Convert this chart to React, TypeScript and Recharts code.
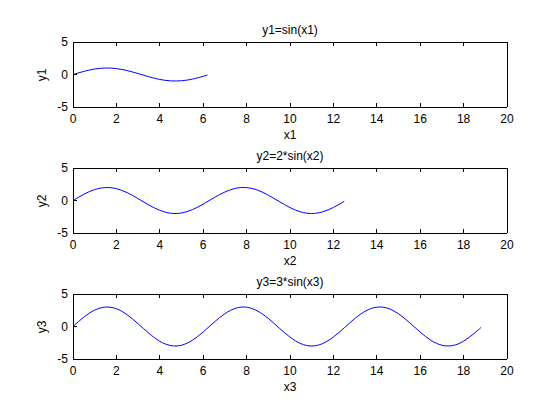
import React from 'react';
import { LineChart, Line, XAxis, YAxis } from 'recharts';

const x1 = [0, 0.5, 1, 1.5, 2, 2.5, 3, 3.5, 4, 4.5, 5, 5.5, 6, 6.2];
const y1 = [0, 0.48, 0.84, 1.0, 0.91, 0.6, 0.14, -0.35, -0.76, -0.98, -0.96, -0.71, -0.28, -0.08];

const x2 = [0, 0.5, 1, 1.5, 2, 2.5, 3, 3.5, 4, 4.5, 5, 5.5, 6, 6.5, 7, 7.5, 8, 8.5, 9, 9.5, 10, 10.5, 11, 11.5, 12, 12.5];
const y2 = [0, 0.96, 1.68, 1.99, 1.82, 1.2, 0.28, -0.7, -1.51, -1.96, -1.92, -1.41, -0.56, 0.43, 1.31, 1.88, 1.98, 1.6, 0.82, -0.15, -1.09, -1.76, -2.0, -1.75, -1.07, -0.13];

const x3 = [0, 0.5, 1, 1.5, 2, 2.5, 3, 3.5, 4, 4.5, 5, 5.5, 6, 6.5, 7, 7.5, 8, 8.5, 9, 9.5, 10, 10.5, 11, 11.5, 12, 12.5, 13, 13.5, 14, 14.5, 15, 15.5, 16, 16.5, 17, 17.5, 18, 18.5, 18.8];
const y3 = [0, 1.44, 2.52, 2.99, 2.73, 1.8, 0.42, -1.05, -2.27, -2.93, -2.88, -2.12, -0.84, 0.65, 1.97, 2.81, 2.97, 2.39, 1.24, -0.23, -1.63, -2.64, -3.0, -2.63, -1.61, -0.2, 1.26, 2.41, 2.97, 2.81, 1.95, 0.62, -0.86, -2.14, -2.88, -2.93, -2.25, -1.03, -0.15];

const xTicks = [0, 2, 4, 6, 8, 10, 12, 14, 16, 18, 20];
const yTicks = [-5, 0, 5];

const titles = ['y1=sin(x1)', 'y2=2*sin(x2)', 'y3=3*sin(x3)'];
const xLabels = ['x1', 'x2', 'x3'];
const yLabels = ['y1', 'y2', 'y3'];

const FONT = '"Liberation Sans", Arial, sans-serif';
const PLOT_LEFT = 73;
const PLOT_RIGHT = 507;
const PLOT_H = 65;
const MARGIN_TOP = 42;
const TICK = 4;

const axisLineStyle = { stroke: '#000', strokeWidth: 1, shapeRendering: 'crispEdges' as const };

function BottomTick(props: any) {
  const { x, y, payload } = props;
  return (
    <g>
      <line x1={x} x2={x} y1={y} y2={y - TICK} stroke="#000" shapeRendering="crispEdges" />
      <text x={x} y={y + 7} dy="0.71em" textAnchor="middle" fontSize={12} fill="#000" fontFamily={FONT}>
        {payload.value}
      </text>
    </g>
  );
}
function TopTick(props: any) {
  const { x, y } = props;
  return <line x1={x} x2={x} y1={y} y2={y + TICK} stroke="#000" shapeRendering="crispEdges" />;
}
function LeftTick(props: any) {
  const { x, y, payload } = props;
  return (
    <g>
      <line x1={x} x2={x + TICK} y1={y} y2={y} stroke="#000" shapeRendering="crispEdges" />
      <text x={x - 5} y={y} dy="0.36em" textAnchor="end" fontSize={12} fill="#000" fontFamily={FONT}>
        {payload.value}
      </text>
    </g>
  );
}
function RightTick(props: any) {
  const { x, y } = props;
  return <line x1={x} x2={x - TICK} y1={y} y2={y} stroke="#000" shapeRendering="crispEdges" />;
}

function Panel({ xs, ys, top, idx }: { xs: number[]; ys: number[]; top: number; idx: number }) {
  const data = xs.map((x, i) => ({ x, y: ys[i] }));
  const plotTop = top + MARGIN_TOP;
  const cx = (PLOT_LEFT + PLOT_RIGHT) / 2;
  return (
    <>
      <div style={{ position: 'absolute', left: 0, top }}>
        <LineChart
          width={560}
          height={MARGIN_TOP + PLOT_H + 30}
          data={data}
          margin={{ top: MARGIN_TOP - 1, right: 560 - PLOT_RIGHT - 1, left: 0, bottom: 10 }}
        >
          <XAxis
            xAxisId="b"
            dataKey="x"
            type="number"
            domain={[0, 20]}
            ticks={xTicks}
            interval={0}
            height={20}
            axisLine={axisLineStyle}
            tickLine={false}
            tickSize={0}
            tickMargin={0}
            tick={<BottomTick />}
          />
          <XAxis
            xAxisId="t"
            orientation="top"
            dataKey="x"
            type="number"
            domain={[0, 20]}
            ticks={xTicks}
            interval={0}
            height={1}
            axisLine={axisLineStyle}
            tickLine={false}
            tickSize={0}
            tickMargin={0}
            tick={<TopTick />}
          />
          <YAxis
            yAxisId="l"
            type="number"
            domain={[-5, 5]}
            ticks={yTicks}
            interval={0}
            width={PLOT_LEFT}
            axisLine={axisLineStyle}
            tickLine={false}
            tickSize={0}
            tickMargin={0}
            tick={<LeftTick />}
          />
          <YAxis
            yAxisId="r"
            orientation="right"
            type="number"
            domain={[-5, 5]}
            ticks={yTicks}
            interval={0}
            width={1}
            axisLine={axisLineStyle}
            tickLine={false}
            tickSize={0}
            tickMargin={0}
            tick={<RightTick />}
          />
          <Line
            xAxisId="b"
            yAxisId="l"
            dataKey="y"
            type="natural"
            stroke="#0000ff"
            strokeWidth={1}
            dot={false}
            isAnimationActive={false}
          />
        </LineChart>
      </div>
      <div style={{ position: 'absolute', left: cx - 100, width: 200, top: plotTop - 20, lineHeight: '16px', textAlign: 'center', fontSize: 12, color: '#000' }}>
        {titles[idx]}
      </div>
      <div style={{ position: 'absolute', left: cx - 100, width: 200, top: plotTop + PLOT_H + 20, lineHeight: '16px', textAlign: 'center', fontSize: 12, color: '#000' }}>
        {xLabels[idx]}
      </div>
      <div style={{ position: 'absolute', left: 42 - 50, width: 100, top: plotTop + PLOT_H / 2 - 8, lineHeight: '16px', textAlign: 'center', fontSize: 12, color: '#000', transform: 'rotate(-90deg)' }}>
        {yLabels[idx]}
      </div>
    </>
  );
}

export default function App() {
  return (
    <div style={{ position: 'absolute', left: 0, top: 0, width: 560, height: 420, background: '#fff', fontFamily: FONT, overflow: 'hidden' }}>
      <Panel xs={x1} ys={y1} top={0} idx={0} />
      <Panel xs={x2} ys={y2} top={126} idx={1} />
      <Panel xs={x3} ys={y3} top={252} idx={2} />
    </div>
  );
}
